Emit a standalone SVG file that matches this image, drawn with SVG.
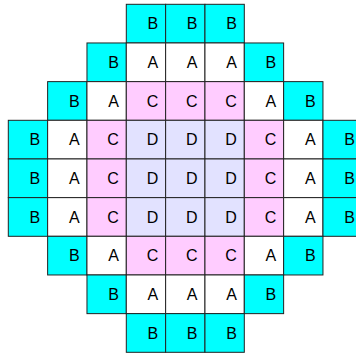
<svg xmlns="http://www.w3.org/2000/svg" width="356" height="354" viewBox="0 0 356 354">
<style>
rect{stroke:#222;stroke-width:1}
.A{fill:#ffffff}.B{fill:#00ffff}.C{fill:#ffccff}.D{fill:#e2e2ff}
text{font-family:"Liberation Sans",Arial,sans-serif;font-size:16px;fill:#000;text-anchor:end;transform:translate(0.6px,-0.3px)}
</style>
<rect width="356" height="354" fill="#fff" style="stroke:none"/>
<g id="row0">
<g id="c0_3"><rect class="B" x="126.3" y="4.3" width="39.33" height="38.67"/><text x="157.6" y="29.6">B</text></g>
<g id="c0_4"><rect class="B" x="165.63" y="4.3" width="39.33" height="38.67"/><text x="196.9" y="29.6">B</text></g>
<g id="c0_5"><rect class="B" x="204.97" y="4.3" width="39.33" height="38.67"/><text x="236.3" y="29.6">B</text></g>
</g>
<g id="row1">
<g id="c1_2"><rect class="B" x="86.97" y="42.97" width="39.33" height="38.67"/><text x="118.3" y="68.3">B</text></g>
<g id="c1_3"><rect class="A" x="126.3" y="42.97" width="39.33" height="38.67"/><text x="157.6" y="68.3">A</text></g>
<g id="c1_4"><rect class="A" x="165.63" y="42.97" width="39.33" height="38.67"/><text x="196.9" y="68.3">A</text></g>
<g id="c1_5"><rect class="A" x="204.97" y="42.97" width="39.33" height="38.67"/><text x="236.3" y="68.3">A</text></g>
<g id="c1_6"><rect class="B" x="244.3" y="42.97" width="39.33" height="38.67"/><text x="275.6" y="68.3">B</text></g>
</g>
<g id="row2">
<g id="c2_1"><rect class="B" x="47.63" y="81.63" width="39.33" height="38.67"/><text x="79" y="106.9">B</text></g>
<g id="c2_2"><rect class="A" x="86.97" y="81.63" width="39.33" height="38.67"/><text x="118.3" y="106.9">A</text></g>
<g id="c2_3"><rect class="C" x="126.3" y="81.63" width="39.33" height="38.67"/><text x="157.6" y="106.9">C</text></g>
<g id="c2_4"><rect class="C" x="165.63" y="81.63" width="39.33" height="38.67"/><text x="196.9" y="106.9">C</text></g>
<g id="c2_5"><rect class="C" x="204.97" y="81.63" width="39.33" height="38.67"/><text x="236.3" y="106.9">C</text></g>
<g id="c2_6"><rect class="A" x="244.3" y="81.63" width="39.33" height="38.67"/><text x="275.6" y="106.9">A</text></g>
<g id="c2_7"><rect class="B" x="283.63" y="81.63" width="39.33" height="38.67"/><text x="315" y="106.9">B</text></g>
</g>
<g id="row3">
<g id="c3_0"><rect class="B" x="8.3" y="120.3" width="39.33" height="38.67"/><text x="39.6" y="145.6">B</text></g>
<g id="c3_1"><rect class="A" x="47.63" y="120.3" width="39.33" height="38.67"/><text x="79" y="145.6">A</text></g>
<g id="c3_2"><rect class="C" x="86.97" y="120.3" width="39.33" height="38.67"/><text x="118.3" y="145.6">C</text></g>
<g id="c3_3"><rect class="D" x="126.3" y="120.3" width="39.33" height="38.67"/><text x="157.6" y="145.6">D</text></g>
<g id="c3_4"><rect class="D" x="165.63" y="120.3" width="39.33" height="38.67"/><text x="196.9" y="145.6">D</text></g>
<g id="c3_5"><rect class="D" x="204.97" y="120.3" width="39.33" height="38.67"/><text x="236.3" y="145.6">D</text></g>
<g id="c3_6"><rect class="C" x="244.3" y="120.3" width="39.33" height="38.67"/><text x="275.6" y="145.6">C</text></g>
<g id="c3_7"><rect class="A" x="283.63" y="120.3" width="39.33" height="38.67"/><text x="315" y="145.6">A</text></g>
<g id="c3_8"><rect class="B" x="322.97" y="120.3" width="39.33" height="38.67"/><text x="354.3" y="145.6">B</text></g>
</g>
<g id="row4">
<g id="c4_0"><rect class="B" x="8.3" y="158.97" width="39.33" height="38.67"/><text x="39.6" y="184.3">B</text></g>
<g id="c4_1"><rect class="A" x="47.63" y="158.97" width="39.33" height="38.67"/><text x="79" y="184.3">A</text></g>
<g id="c4_2"><rect class="C" x="86.97" y="158.97" width="39.33" height="38.67"/><text x="118.3" y="184.3">C</text></g>
<g id="c4_3"><rect class="D" x="126.3" y="158.97" width="39.33" height="38.67"/><text x="157.6" y="184.3">D</text></g>
<g id="c4_4"><rect class="D" x="165.63" y="158.97" width="39.33" height="38.67"/><text x="196.9" y="184.3">D</text></g>
<g id="c4_5"><rect class="D" x="204.97" y="158.97" width="39.33" height="38.67"/><text x="236.3" y="184.3">D</text></g>
<g id="c4_6"><rect class="C" x="244.3" y="158.97" width="39.33" height="38.67"/><text x="275.6" y="184.3">C</text></g>
<g id="c4_7"><rect class="A" x="283.63" y="158.97" width="39.33" height="38.67"/><text x="315" y="184.3">A</text></g>
<g id="c4_8"><rect class="B" x="322.97" y="158.97" width="39.33" height="38.67"/><text x="354.3" y="184.3">B</text></g>
</g>
<g id="row5">
<g id="c5_0"><rect class="B" x="8.3" y="197.63" width="39.33" height="38.67"/><text x="39.6" y="222.9">B</text></g>
<g id="c5_1"><rect class="A" x="47.63" y="197.63" width="39.33" height="38.67"/><text x="79" y="222.9">A</text></g>
<g id="c5_2"><rect class="C" x="86.97" y="197.63" width="39.33" height="38.67"/><text x="118.3" y="222.9">C</text></g>
<g id="c5_3"><rect class="D" x="126.3" y="197.63" width="39.33" height="38.67"/><text x="157.6" y="222.9">D</text></g>
<g id="c5_4"><rect class="D" x="165.63" y="197.63" width="39.33" height="38.67"/><text x="196.9" y="222.9">D</text></g>
<g id="c5_5"><rect class="D" x="204.97" y="197.63" width="39.33" height="38.67"/><text x="236.3" y="222.9">D</text></g>
<g id="c5_6"><rect class="C" x="244.3" y="197.63" width="39.33" height="38.67"/><text x="275.6" y="222.9">C</text></g>
<g id="c5_7"><rect class="A" x="283.63" y="197.63" width="39.33" height="38.67"/><text x="315" y="222.9">A</text></g>
<g id="c5_8"><rect class="B" x="322.97" y="197.63" width="39.33" height="38.67"/><text x="354.3" y="222.9">B</text></g>
</g>
<g id="row6">
<g id="c6_1"><rect class="B" x="47.63" y="236.3" width="39.33" height="38.67"/><text x="79" y="261.6">B</text></g>
<g id="c6_2"><rect class="A" x="86.97" y="236.3" width="39.33" height="38.67"/><text x="118.3" y="261.6">A</text></g>
<g id="c6_3"><rect class="C" x="126.3" y="236.3" width="39.33" height="38.67"/><text x="157.6" y="261.6">C</text></g>
<g id="c6_4"><rect class="C" x="165.63" y="236.3" width="39.33" height="38.67"/><text x="196.9" y="261.6">C</text></g>
<g id="c6_5"><rect class="C" x="204.97" y="236.3" width="39.33" height="38.67"/><text x="236.3" y="261.6">C</text></g>
<g id="c6_6"><rect class="A" x="244.3" y="236.3" width="39.33" height="38.67"/><text x="275.6" y="261.6">A</text></g>
<g id="c6_7"><rect class="B" x="283.63" y="236.3" width="39.33" height="38.67"/><text x="315" y="261.6">B</text></g>
</g>
<g id="row7">
<g id="c7_2"><rect class="B" x="86.97" y="274.97" width="39.33" height="38.67"/><text x="118.3" y="300.3">B</text></g>
<g id="c7_3"><rect class="A" x="126.3" y="274.97" width="39.33" height="38.67"/><text x="157.6" y="300.3">A</text></g>
<g id="c7_4"><rect class="A" x="165.63" y="274.97" width="39.33" height="38.67"/><text x="196.9" y="300.3">A</text></g>
<g id="c7_5"><rect class="A" x="204.97" y="274.97" width="39.33" height="38.67"/><text x="236.3" y="300.3">A</text></g>
<g id="c7_6"><rect class="B" x="244.3" y="274.97" width="39.33" height="38.67"/><text x="275.6" y="300.3">B</text></g>
</g>
<g id="row8">
<g id="c8_3"><rect class="B" x="126.3" y="313.63" width="39.33" height="38.67"/><text x="157.6" y="338.9">B</text></g>
<g id="c8_4"><rect class="B" x="165.63" y="313.63" width="39.33" height="38.67"/><text x="196.9" y="338.9">B</text></g>
<g id="c8_5"><rect class="B" x="204.97" y="313.63" width="39.33" height="38.67"/><text x="236.3" y="338.9">B</text></g>
</g>
<g id="connectors"/>
</svg>
